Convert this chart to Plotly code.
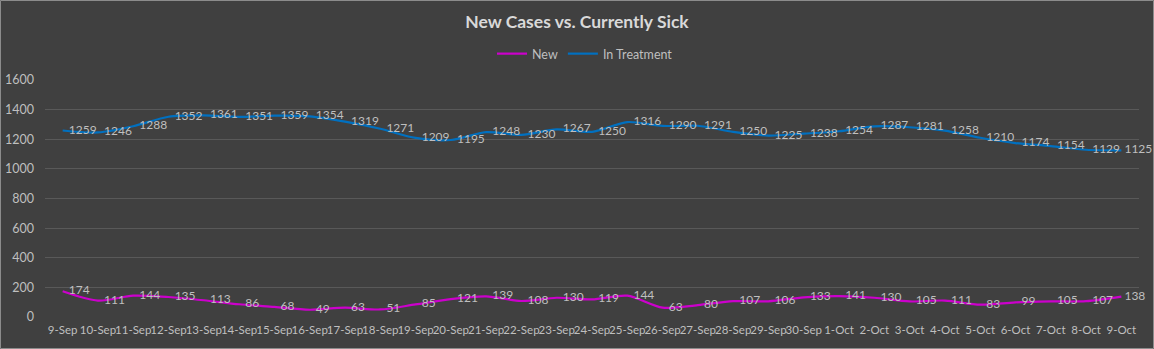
import plotly.graph_objects as go

dates = ["9-Sep", "10-Sep", "11-Sep", "12-Sep", "13-Sep", "14-Sep", "15-Sep", "16-Sep",
         "17-Sep", "18-Sep", "19-Sep", "20-Sep", "21-Sep", "22-Sep", "23-Sep", "24-Sep",
         "25-Sep", "26-Sep", "27-Sep", "28-Sep", "29-Sep", "30-Sep", "1-Oct", "2-Oct",
         "3-Oct", "4-Oct", "5-Oct", "6-Oct", "7-Oct", "8-Oct", "9-Oct"]
new_cases = [174, 111, 144, 135, 113, 86, 68, 49, 63, 51, 85, 121, 139, 108, 130, 119,
             144, 63, 80, 107, 106, 133, 141, 130, 105, 111, 83, 99, 105, 107, 138]
in_treatment = [1259, 1246, 1288, 1352, 1361, 1351, 1359, 1354, 1319, 1271, 1209, 1195,
                1248, 1230, 1267, 1250, 1316, 1290, 1291, 1250, 1225, 1238, 1254, 1287,
                1281, 1258, 1210, 1174, 1154, 1129, 1125]
y_ticks = [0, 200, 400, 600, 800, 1000, 1200, 1400, 1600]

FONT = "Lato, 'Open Sans', sans-serif"
TXT = "#bfbfbf"


def labels(values):
    out = ["  " + str(v) for v in values]
    out[-1] = " " + str(values[-1])
    return out


fig = go.Figure()
fig.add_trace(go.Scatter(
    x=dates, y=new_cases, name="New", mode="lines+text",
    text=labels(new_cases), textposition="middle right",
    textfont=dict(color=TXT, size=12, family=FONT), cliponaxis=False,
    line=dict(color="#cc00cc", width=2.2, shape="spline", smoothing=0.8),
))
fig.add_trace(go.Scatter(
    x=dates, y=in_treatment, name="In Treatment", mode="lines+text",
    text=labels(in_treatment), textposition="middle right",
    textfont=dict(color=TXT, size=12, family=FONT), cliponaxis=False,
    line=dict(color="#0070c0", width=2.2, shape="spline", smoothing=0.8),
))

fig.update_layout(
    width=1154, height=349,
    paper_bgcolor="#404040", plot_bgcolor="#404040",
    margin=dict(l=45, r=15, t=80, b=32, autoexpand=False),
    title=dict(text="<b>New Cases vs. Currently Sick</b>", x=0.5, xanchor="center",
               y=1 - 22 / 349, yanchor="middle",
               font=dict(size=17.5, color="#d9d9d9", family=FONT)),
    legend=dict(orientation="h", x=(585 - 45) / 1094, xanchor="center", y=1 - 54 / 349,
                yref="container", yanchor="middle",
                font=dict(size=12.5, color=TXT, family=FONT),
                bgcolor="rgba(0,0,0,0)", itemwidth=30),
    showlegend=True,
    font=dict(family=FONT, color=TXT),
    xaxis=dict(type="category", range=[-0.5, len(dates) - 0.5], showgrid=False,
               zeroline=False, showline=False, ticks="", automargin=False,
               tickfont=dict(size=11.5, color=TXT, family=FONT), tickangle=0,
               ticklabelstandoff=4),
    yaxis=dict(range=[0, 1600], tickvals=y_ticks, showgrid=True, gridcolor="#595959",
               gridwidth=1, zeroline=False, showline=False, ticks="", automargin=False,
               tickfont=dict(size=12.5, color=TXT, family=FONT), ticklabelstandoff=10),
    shapes=[dict(type="rect", xref="paper", yref="paper",
                 x0=-44.5 / 1094, x1=1 + 14.5 / 1094,
                 y0=-31.5 / 237, y1=1 + 79.5 / 237,
                 line=dict(color="#8c8c8c", width=1), fillcolor="rgba(0,0,0,0)", layer="below")],
)

fig.write_html("out.html")
